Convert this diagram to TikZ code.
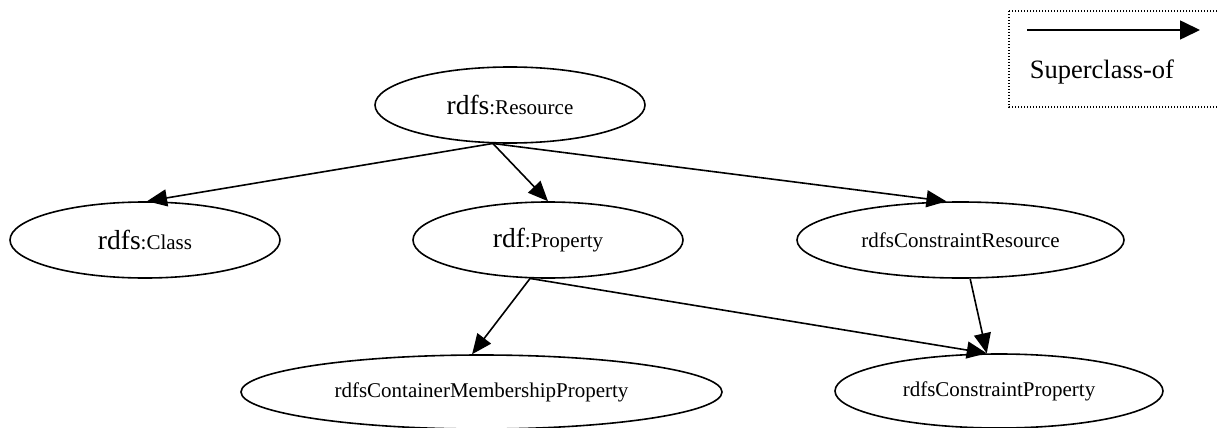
\documentclass[tikz,border=0pt]{standalone}
\usepackage{fontspec}
\setmainfont{Liberation Serif}
\usetikzlibrary{arrows.meta,shapes.geometric}
\newcommand{\nspre}[1]{{\fontsize{27.5pt}{30pt}\selectfont #1}}
\begin{document}
\begin{tikzpicture}[x=1pt,y=-1pt,line width=1.6pt,-{Triangle[length=20pt,width=17pt]},class node/.style={ellipse,draw,inner sep=0pt,minimum width=270pt,minimum height=76pt,font=\fontsize{21pt}{24pt}\selectfont}, legend box/.style={-,draw,line width=1.3pt,dash pattern=on 1.4pt off 1.6pt}]
\useasboundingbox (0,0) rectangle (1218,428);
\clip (0,0) rectangle (1218,428);

\node[class node] (res) at (510,105) {\nspre{rdfs}:Resource};
\node[class node] (cls) at (145,240) {\nspre{rdfs}:Class};
\node[class node] (prop) at (548,240) {\nspre{rdf}:Property};
\node[class node,minimum width=327pt] (cres) at (960.5,240) {rdfsConstraintResource};
\node[class node,minimum width=481pt,minimum height=74pt] (cont) at (481.5,392) {rdfsContainerMembershipProperty};
\node[class node,minimum width=328pt,minimum height=74pt] (cprop) at (999,391) {rdfsConstraintProperty};


 \path
(res.-114) edge (cls.87)
(res.-114) edge (prop.north)
(res.-114) edge (cres.110)
(prop.-115) edge (cont.104)
(prop.-115) edge (cprop.108)
(cres.-76) edge (cprop.108);

% legend
\draw[legend box] (1009,11) rectangle (1230,107);
\coordinate (legstart) at (1027,30);
\coordinate (legtip) at (1200,30);
\draw[-{Triangle[length=20pt,width=19pt]}] (legstart) -- (legtip);
\node[anchor=west,inner sep=0pt,font=\fontsize{26.5pt}{30pt}\selectfont] (legtext) at (1029,72) {Superclass-of};

\end{tikzpicture}
\end{document}
